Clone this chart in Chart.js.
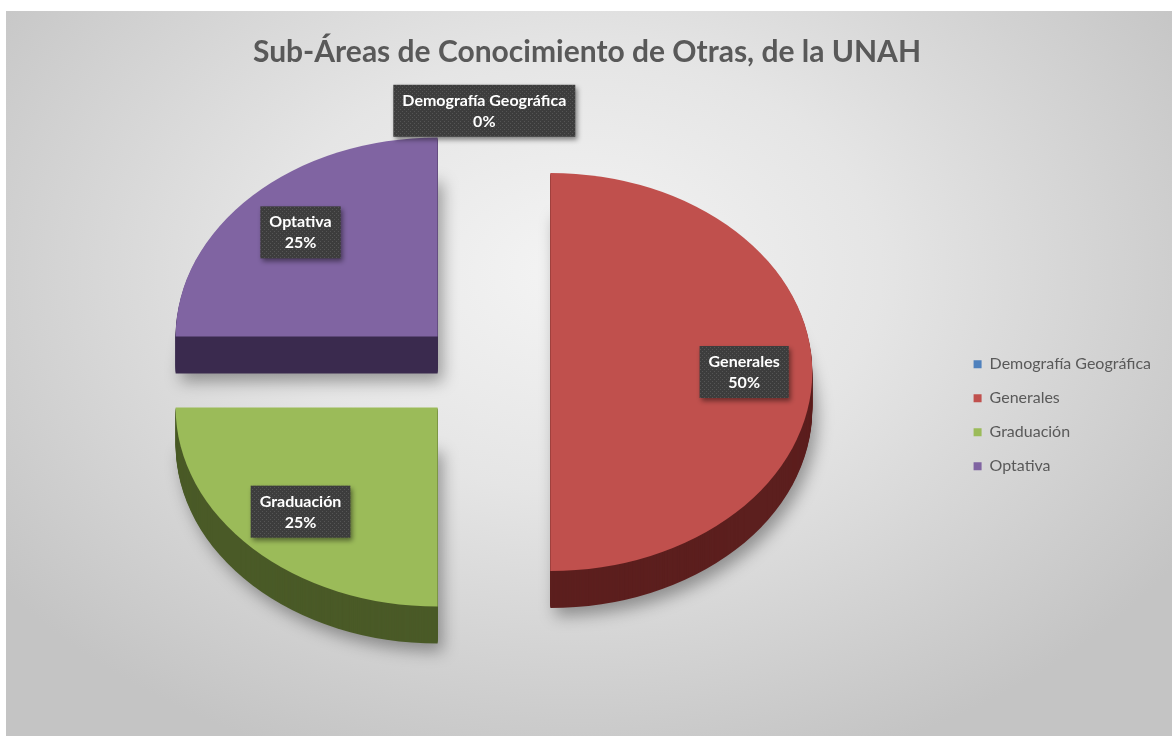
<!DOCTYPE html>
<html>
<head>
<meta charset="utf-8">
<script src="https://cdn.jsdelivr.net/npm/chart.js@4"></script>
<style>
html, body { margin: 0; padding: 0; background: #fff; }
#wrap {
  position: absolute; left: 6px; top: 11px; width: 1166px; height: 725px;
  background: radial-gradient(ellipse 62% 72% at 49% 36%, #f4f4f4 0%, #e5e5e5 42%, #c4c4c4 100%);
}
</style>
</head>
<body>
<div id="wrap"><canvas id="pieChart"></canvas></div>
<script>
// data
const categories = ['Demografía Geográfica', 'Generales', 'Graduación', 'Optativa'];
const shares = [0, 50, 25, 25];
const topColors = ['#4F81BD', '#C0504D', '#9BBB59', '#8064A2'];
const sideColors = ['#2B4869', '#5C1F1E', '#4A5A27', '#3B2B4E'];

const tilt = 0.76;   // vertical squash of the pie
const depth = 37;    // thickness of the 3d slices

const PieCanvas = document.getElementById('pieChart');

// dotted dark fill for the data label boxes
const pc = document.createElement('canvas');
pc.width = pc.height = 4;
const pctx = pc.getContext('2d');
pctx.fillStyle = '#3d3d3d';
pctx.fillRect(0, 0, 4, 4);
pctx.fillStyle = '#555555';
pctx.fillRect(0, 0, 1, 1);
pctx.fillRect(2, 2, 1, 1);

const pie3d = {
  id: 'pie3d',
  beforeDatasetsDraw(chart) {
    const ctx = chart.ctx;
    const meta = chart.getDatasetMeta(0);
    const vals = chart.data.datasets[0].data;
    const total = vals.reduce((a, b) => a + b, 0);

    const slices = meta.data.map((arc, i) => {
      const p = arc.getProps(['x', 'y', 'startAngle', 'endAngle', 'outerRadius']);
      const mid = (p.startAngle + p.endAngle) / 2;
      return { i, p, mid, off: arc.options.offset || 0 };
    });

    function slicePath(s, d) {
      const ox = Math.cos(s.mid) * s.off, oy = Math.sin(s.mid) * s.off;
      ctx.save();
      ctx.translate(s.p.x, s.p.y + d);
      ctx.scale(1, tilt);
      ctx.beginPath();
      ctx.moveTo(ox, oy);
      ctx.arc(ox, oy, s.p.outerRadius, s.p.startAngle, s.p.endAngle);
      ctx.closePath();
      ctx.restore();
    }

    // back slices first
    slices.filter(s => s.p.endAngle > s.p.startAngle)
      .sort((a, b) => Math.sin(a.mid) - Math.sin(b.mid))
      .forEach(s => {
        ctx.save();
        ctx.shadowColor = 'rgba(0,0,0,0.35)';
        ctx.shadowBlur = 16;
        ctx.shadowOffsetX = 5;
        ctx.shadowOffsetY = 8;
        slicePath(s, depth);
        ctx.fillStyle = sideColors[s.i];
        ctx.fill();
        ctx.restore();
        ctx.fillStyle = sideColors[s.i];
        for (let d = depth - 1; d > 0; d--) {
          slicePath(s, d);
          ctx.fill();
        }
        slicePath(s, 0);
        ctx.fillStyle = topColors[s.i];
        ctx.fill();
      });

    // data labels
    const pattern = ctx.createPattern(pc, 'repeat');
    ctx.font = 'bold 16px Lato';
    ctx.textAlign = 'center';
    ctx.textBaseline = 'middle';
    slices.forEach(s => {
      const k = vals[s.i] > 0 ? 0.74 : 1.06;
      const dist = s.off + k * s.p.outerRadius;
      const lx = s.p.x + Math.cos(s.mid) * dist;
      const ly = s.p.y + Math.sin(s.mid) * dist * tilt;
      const l1 = categories[s.i];
      const l2 = Math.round(vals[s.i] / total * 100) + '%';
      const w = Math.max(ctx.measureText(l1).width, ctx.measureText(l2).width) + 18;
      const h = 52;
      ctx.save();
      ctx.shadowColor = 'rgba(0,0,0,0.45)';
      ctx.shadowBlur = 5;
      ctx.shadowOffsetX = 2;
      ctx.shadowOffsetY = 3;
      ctx.fillStyle = pattern;
      ctx.fillRect(lx - w / 2, ly - h / 2, w, h);
      ctx.restore();
      ctx.fillStyle = '#ffffff';
      ctx.fillText(l1, lx, ly - 10);
      ctx.fillText(l2, lx, ly + 11);
    });
    return false;
  }
};

Chart.defaults.font.family = 'Lato';

new Chart(PieCanvas, {
  type: 'pie',
  data: {
    labels: categories,
    datasets: [{
      data: shares,
      backgroundColor: topColors,
      borderWidth: 0,
      borderColor: 'rgba(0,0,0,0)',
      offset: 66,
      radius: 262
    }]
  },
  options: {
    responsive: true,
    maintainAspectRatio: false,
    animation: false,
    layout: { padding: { left: 7, right: 11, top: 0, bottom: 72 } },
    plugins: {
      title: {
        display: true,
        text: 'Sub-Áreas de Conocimiento de Otras, de la UNAH',
        color: '#595959',
        font: { size: 30, weight: 'bold', family: 'Lato' },
        padding: { top: 23, bottom: 10 }
      },
      legend: {
        position: 'right',
        align: 'center',
        title: { display: true, text: '', padding: { top: 141, bottom: 0 } },
        labels: {
          boxWidth: 8,
          boxHeight: 8,
          padding: 18,
          color: '#595959',
          font: { size: 16, family: 'Lato' }
        }
      },
      tooltip: { enabled: false }
    }
  },
  plugins: [pie3d]
});
</script>
</body>
</html>
